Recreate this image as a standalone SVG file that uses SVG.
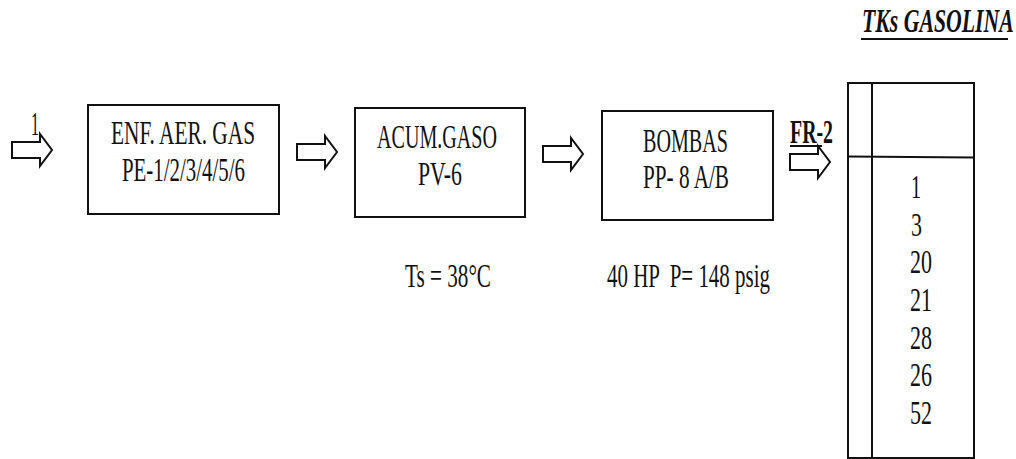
<svg xmlns="http://www.w3.org/2000/svg" xmlns:xlink="http://www.w3.org/1999/xlink" width="1016" height="459" viewBox="0 0 1016 459">
  <style>
    .box { fill: #ffffff; stroke: #111111; stroke-width: 2; }
    .ln { stroke: #111111; stroke-width: 2; fill: none; }
    .t { font-family: "Liberation Serif", "Times New Roman", serif; font-size: 33px; fill: #111111; }
    .b { font-weight: bold; }
    .bi { font-weight: bold; font-style: italic; }
    .arr { fill: #ffffff; stroke: #111111; stroke-width: 2; stroke-linejoin: miter; }
  </style>
  <defs>
    <path id="blockArrow" class="arr" d="M0,-8 H28 V-16 L40,0 L28,16 V8 H0 Z"/>
  </defs>
  <rect width="1016" height="459" fill="#ffffff"/>

  <g id="connectors">
    <g id="arrow-in">
      <use xlink:href="#blockArrow" transform="translate(12,150)"/>
      <text class="t" x="31" y="135" font-size="28" textLength="8" lengthAdjust="spacingAndGlyphs">1</text>
    </g>
    <use id="arrow-1-2" xlink:href="#blockArrow" transform="translate(297,152)"/>
    <use id="arrow-2-3" xlink:href="#blockArrow" transform="translate(543,154)"/>
    <g id="arrow-3-tk">
      <use xlink:href="#blockArrow" transform="translate(790,162)"/>
      <text class="t b" x="790" y="143" font-size="27" textLength="43" lengthAdjust="spacingAndGlyphs">FR-2</text>
      <line class="ln" x1="790" y1="146" x2="822" y2="146"/>
    </g>
  </g>

  <g id="node-enf">
    <rect class="box" x="88" y="105" width="191" height="109"/>
    <text class="t" x="111" y="144" textLength="144" lengthAdjust="spacingAndGlyphs">ENF. AER. GAS</text>
    <text class="t" x="122" y="181" textLength="123" lengthAdjust="spacingAndGlyphs">PE-1/2/3/4/5/6</text>
  </g>

  <g id="node-acum">
    <rect class="box" x="355" y="108" width="170" height="109"/>
    <text class="t" x="377" y="148" textLength="120" lengthAdjust="spacingAndGlyphs">ACUM.GASO</text>
    <text class="t" x="418" y="185" textLength="44" lengthAdjust="spacingAndGlyphs">PV-6</text>
    <text class="t" x="405" y="287" textLength="86" lengthAdjust="spacingAndGlyphs">Ts = 38°C</text>
  </g>

  <g id="node-bombas">
    <rect class="box" x="602" y="111" width="171" height="109"/>
    <text class="t" x="643" y="152" textLength="85" lengthAdjust="spacingAndGlyphs">BOMBAS</text>
    <text class="t" x="643" y="188" textLength="86" lengthAdjust="spacingAndGlyphs">PP- 8 A/B</text>
    <text class="t" x="607" y="287" textLength="163" lengthAdjust="spacingAndGlyphs" xml:space="preserve">40 HP  P= 148 psig</text>
  </g>

  <g id="node-tks">
    <text class="t bi" transform="translate(862,32) scale(0.66,1)" x="0" y="0" font-size="31">TKs GASOLINA</text>
    <line class="ln" x1="861" y1="39" x2="1008" y2="39"/>
    <rect class="box" x="848" y="83" width="126" height="375"/>
    <line class="ln" x1="872" y1="83" x2="872" y2="458"/>
    <line class="ln" x1="848" y1="156.5" x2="974" y2="157.5"/>
    <text class="t" x="911" y="198" textLength="10" lengthAdjust="spacingAndGlyphs">1</text>
    <text class="t" x="911" y="236" textLength="11" lengthAdjust="spacingAndGlyphs">3</text>
    <text class="t" x="910" y="273" textLength="22" lengthAdjust="spacingAndGlyphs">20</text>
    <text class="t" x="910" y="311" textLength="22" lengthAdjust="spacingAndGlyphs">21</text>
    <text class="t" x="910" y="349" textLength="22" lengthAdjust="spacingAndGlyphs">28</text>
    <text class="t" x="910" y="386" textLength="22" lengthAdjust="spacingAndGlyphs">26</text>
    <text class="t" x="910" y="424" textLength="22" lengthAdjust="spacingAndGlyphs">52</text>
  </g>
</svg>
